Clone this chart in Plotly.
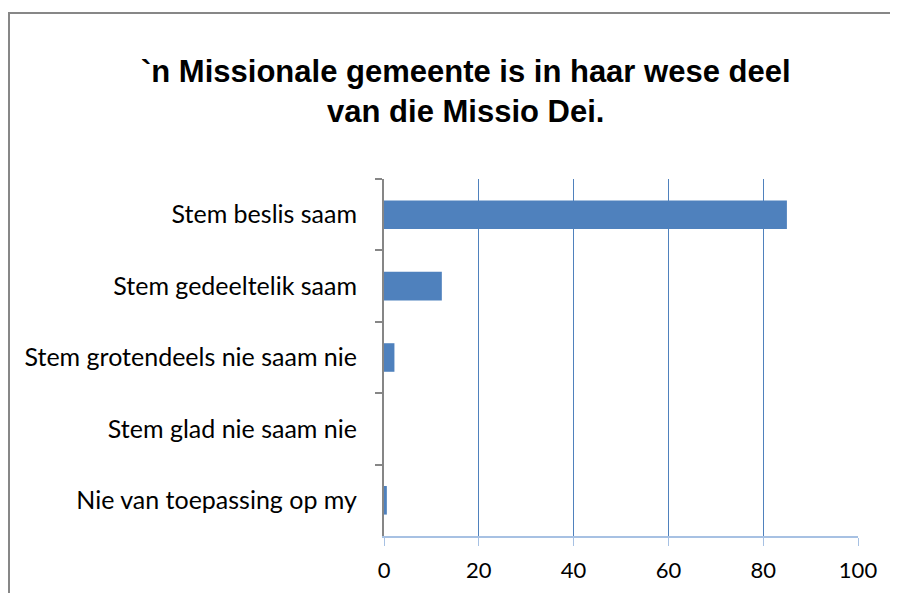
import plotly.graph_objects as go

categories = ["Stem beslis saam", "Stem gedeeltelik saam", "Stem grotendeels nie saam nie",
              "Stem glad nie saam nie", "Nie van toepassing op my"]
values = [85.0, 12.2, 2.2, 0.0, 0.6]
x_ticks = [0, 20, 40, 60, 80, 100]
title_text = "<b>`n Missionale gemeente is in haar wese deel<br>van die Missio Dei.</b>"

# page has an 8px body margin, so figure coords = screen coords - 8
W, H = 882, 585
L, R, T, B = 376, 32, 171, 57
pw, ph = W - L - R, H - T - B

fig = go.Figure(go.Bar(
    x=values, y=categories, orientation="h",
    marker=dict(color="#4F81BD", line=dict(width=0)),
    width=0.4,
))

def px2paper_x(px):
    return (px - L) / pw

def px2paper_y(py):
    return (H - B - py) / ph

fig.add_shape(type="rect", xref="paper", yref="paper",
              x0=px2paper_x(1), x1=px2paper_x(920),
              y0=px2paper_y(620), y1=px2paper_y(5),
              line=dict(color="#878787", width=2), layer="below")

fig.add_annotation(text=title_text, xref="paper", yref="paper",
                   x=px2paper_x(458), y=px2paper_y(83), xanchor="center", yanchor="middle",
                   showarrow=False,
                   font=dict(family="Liberation Sans, Arial", size=31, color="black"))

fig.update_layout(
    width=W, height=H,
    margin=dict(l=L, r=R, t=T, b=B, autoexpand=False),
    paper_bgcolor="white", plot_bgcolor="white",
    showlegend=False,
    font=dict(family="Lato, Carlito, Calibri", size=22, color="black"),
    bargap=0.6,
)
fig.update_xaxes(range=[0, 100], tickvals=x_ticks, showgrid=True, gridcolor="#4F81BD", gridwidth=1,
                 showline=True, linecolor="#A7C1E3", linewidth=2,
                 ticks="outside", ticklen=8, tickcolor="#A7C1E3", tickwidth=1,
                 ticklabelstandoff=6, automargin=False,
                 zeroline=False, tickfont=dict(size=22, color="black"))
fig.update_yaxes(autorange="reversed", showgrid=False, showline=True, linecolor="#868686", linewidth=2,
                 ticks="outside", ticklen=7, tickcolor="#868686", tickwidth=2, tickson="boundaries",
                 ticklabelstandoff=20, automargin=False, tickfont=dict(size=25, color="black"))

fig.write_html("out.html")
